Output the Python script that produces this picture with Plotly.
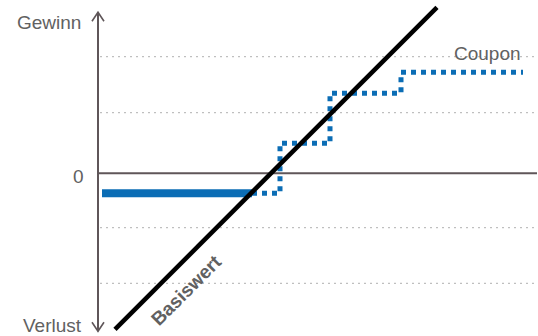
import plotly.graph_objects as go

# ---- data (units: underlying on x, profit on y) ----
basis_x = [1.7, 33.9]
basis_y = [-15.6, 16.6]

bar_x = [0.4, 15.4]
bar_y = [-2.0, -2.0]

coupon_x = [15.4, 18.2, 23.2, 30.3, 42.5]
coupon_y = [-2.0, 3.0, 8.0, 10.1, 10.1]

grid_y = [11.66, 6.06, -5.44, -11.0]

# ---- axis geometry ----
X_RANGE = [-9.8, 44.0]
Y_RANGE = [-16.27, 17.33]
AXIS_TOP = 16.1
AXIS_BOT = -15.8
GRID_X = [0.2, 43.9]

BLUE = "#0b6db5"
AXIS_COL = "#5f5659"
TEXT_COL = "#616161"
FONT = "Liberation Sans, Arial, sans-serif"

fig = go.Figure()

fig.add_trace(go.Scatter(x=bar_x, y=bar_y, mode="lines",
                         line=dict(color=BLUE, width=8), hoverinfo="skip"))
fig.add_trace(go.Scatter(x=coupon_x, y=coupon_y, mode="lines",
                         line=dict(color=BLUE, width=5, dash="5px,5px", shape="hv"),
                         hoverinfo="skip"))
fig.add_trace(go.Scatter(x=basis_x, y=basis_y, mode="lines",
                         line=dict(color="black", width=4.5), hoverinfo="skip"))

shapes = []
for gy in grid_y:
    shapes.append(dict(type="line", xref="x", yref="y", x0=GRID_X[0], x1=GRID_X[1],
                       y0=gy, y1=gy, layer="below",
                       line=dict(color="#b0b0b0", width=1, dash="2px,4px")))
# zero line
shapes.append(dict(type="line", xref="x", yref="y", x0=0, x1=GRID_X[1], y0=0, y1=0,
                   layer="below", line=dict(color=AXIS_COL, width=2)))
# vertical axis
shapes.append(dict(type="line", xref="x", yref="y", x0=0, x1=0, y0=AXIS_BOT, y1=AXIS_TOP,
                   layer="below", line=dict(color=AXIS_COL, width=2)))
# arrow heads
ax, ay = 0.6, 0.9
shapes.append(dict(type="path", xref="x", yref="y",
                   path=f"M {-ax},{AXIS_TOP-ay} L 0,{AXIS_TOP} L {ax},{AXIS_TOP-ay}",
                   layer="below", line=dict(color=AXIS_COL, width=1.6)))
shapes.append(dict(type="path", xref="x", yref="y",
                   path=f"M {-ax},{AXIS_BOT+ay} L 0,{AXIS_BOT} L {ax},{AXIS_BOT+ay}",
                   layer="below", line=dict(color=AXIS_COL, width=1.6)))

annotations = [
    dict(x=-1.5, y=15.1, text="Gewinn", xanchor="right", yanchor="middle",
         showarrow=False, font=dict(family=FONT, size=19, color=TEXT_COL)),
    dict(x=-1.2, y=-0.3, text="0", xanchor="right", yanchor="middle",
         showarrow=False, font=dict(family=FONT, size=19, color=TEXT_COL)),
    dict(x=-1.4, y=-15.2, text="Verlust", xanchor="right", yanchor="middle",
         showarrow=False, font=dict(family=FONT, size=19, color=TEXT_COL)),
    dict(x=38.9, y=12.0, text="Coupon", xanchor="center", yanchor="middle",
         showarrow=False, font=dict(family=FONT, size=19, color=TEXT_COL)),
    dict(x=8.8, y=-11.7, text="<b>Basiswert</b>", xanchor="center", yanchor="middle",
         textangle=-45, showarrow=False,
         font=dict(family=FONT, size=19, color=TEXT_COL)),
]

fig.update_layout(
    width=538, height=336,
    margin=dict(l=0, r=0, t=0, b=0),
    paper_bgcolor="white", plot_bgcolor="white",
    showlegend=False,
    xaxis=dict(range=X_RANGE, visible=False, fixedrange=True),
    yaxis=dict(range=Y_RANGE, visible=False, fixedrange=True),
    shapes=shapes,
    annotations=annotations,
)

fig.write_html("out.html")
